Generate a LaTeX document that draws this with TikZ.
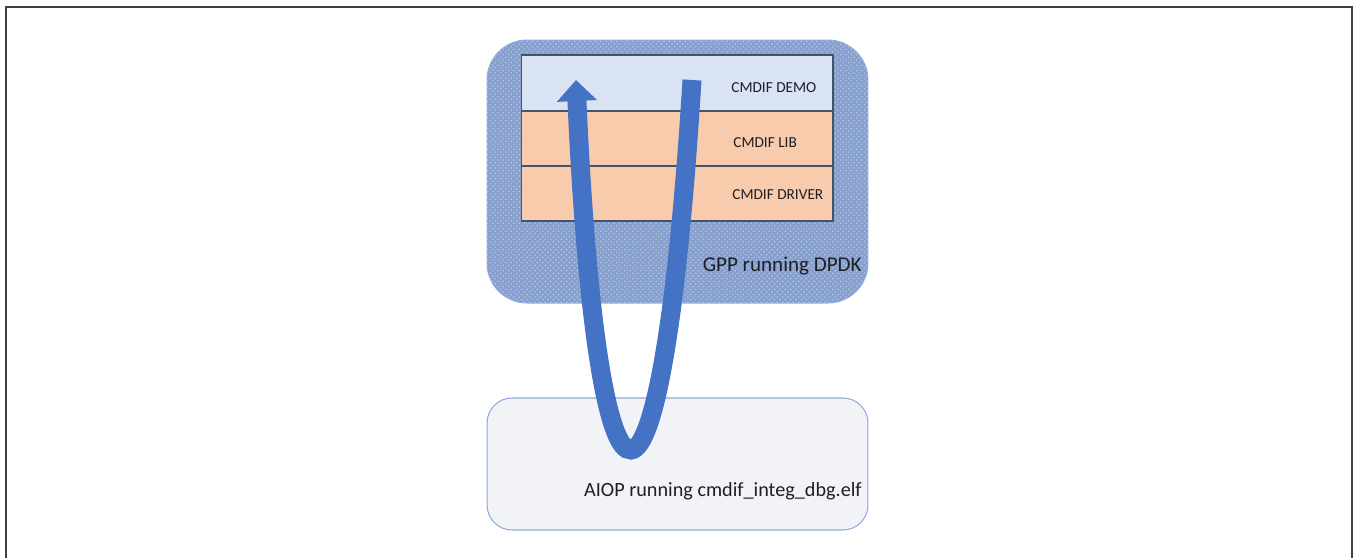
\documentclass[tikz,border=0pt]{standalone}
\usepackage{fontspec}
\setmainfont{Carlito}
\usetikzlibrary{arrows.meta,patterns}
\definecolor{framegray}{RGB}{64,64,64}
\definecolor{gppblue}{RGB}{136,160,206}
\definecolor{gppdot}{RGB}{180,198,230}
\definecolor{edgeblue}{RGB}{143,170,220}
\definecolor{demoblue}{RGB}{218,227,243}
\definecolor{peach}{RGB}{248,203,173}
\definecolor{layeredge}{RGB}{68,84,106}
\definecolor{aiopgray}{RGB}{242,243,246}
\definecolor{flowblue}{RGB}{68,114,196}
\definecolor{textdark}{RGB}{30,30,36}
\tikzset{
  gppbox/.style={draw=edgeblue,line width=0.6pt,fill=gppblue,
    postaction={pattern=crosshatch dots,pattern color=gppdot},
    rounded corners=0.8cm,minimum width=7.62cm,minimum height=5.26cm,inner sep=0},
  aiopbox/.style={draw=edgeblue,line width=0.6pt,fill=aiopgray,
    rounded corners=0.5cm,minimum width=7.62cm,minimum height=2.64cm,inner sep=0},
  layer/.style={draw=layeredge,line width=0.6pt,minimum width=6.24cm,inner sep=0},
  layertext/.style={text=textdark,inner sep=0,font=\fontsize{8.7}{10}\selectfont},
  boxtext/.style={text=textdark,inner sep=0,font=\fontsize{12}{14}\selectfont},
  flow/.style={draw=flowblue,line width=0.38cm}
}
\begin{document}
\begin{tikzpicture}[x=0.02cm,y=-0.02cm,>={Triangle[width=0.78cm,length=0.42cm]}]
\useasboundingbox (0,0) rectangle (1353,558);
\draw[framegray,line width=0.05cm] (6,558) -- (6,7) -- (1352,7) -- (1352,558);
% GPP side
\node[gppbox] (gpp) at (677.5,171.5) {};
\node[layer,fill=demoblue,minimum height=1.12cm] (demo) at (677,83) {};
\node[layer,fill=peach,minimum height=1.1cm] (lib) at (677,138.5) {};
\node[layer,fill=peach,minimum height=1.1cm] (driver) at (677,193.5) {};
\node[layertext,anchor=base west] (demotext) at (731,92) {CMDIF DEMO};
\node[layertext,anchor=base west] (libtext) at (733,147) {CMDIF LIB};
\node[layertext,anchor=base west] (drivertext) at (732,199) {CMDIF DRIVER};
\node[boxtext,anchor=base east] (gpptext) at (862,271) {GPP running DPDK};
% AIOP side
\node[aiopbox] (aiop) at (677.5,464) {};
\node[boxtext,anchor=base east,font=\fontsize{11.5}{14}\selectfont] (aioptext) at (862,496) {AIOP running cmdif\_integ\_dbg.elf};
% command loop
\coordinate (flowstart) at (692,80);
\coordinate (flowend) at (576,80);
\draw[flow,->] (flowstart) .. controls (662,570) and (598,570) .. (flowend);
\end{tikzpicture}
\end{document}
